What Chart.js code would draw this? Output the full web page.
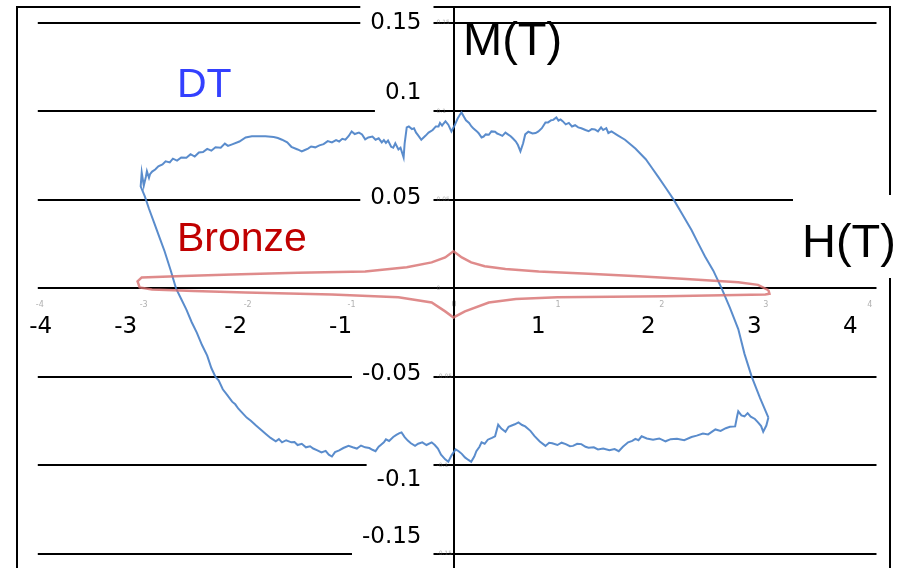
<!DOCTYPE html>
<html>
<head>
<meta charset="utf-8">
<script src="https://cdn.jsdelivr.net/npm/chart.js@4.4.1/dist/chart.umd.min.js"></script>
<style>
  html, body { margin: 0; padding: 0; background: #fff; overflow: hidden; }
  canvas { display: block; }
</style>
</head>
<body>
<canvas id="loop" width="901" height="568"></canvas>
<script>
// DT loop (H in T, M in T), in drawing order
const dtH = [
  3.03, 2.95, 2.87, 2.80, 2.74, 2.66, 2.58, 2.50, 2.42, 2.35,
  2.29, 2.20, 2.12, 2.04, 1.97, 1.91, 1.85, 1.75, 1.65, 1.58,
  1.52, 1.49, 1.47, 1.44, 1.42, 1.39, 1.36, 1.33, 1.30, 1.27,
  1.23, 1.20, 1.17, 1.14, 1.11, 1.08, 1.05, 1.03, 1.01, 0.99,
  0.96, 0.94, 0.91, 0.885, 0.85, 0.817, 0.79, 0.76, 0.72, 0.69,
  0.67, 0.644, 0.62, 0.60, 0.57, 0.55, 0.52, 0.5, 0.47, 0.44,
  0.42, 0.40, 0.365, 0.34, 0.31, 0.29, 0.27, 0.24, 0.22, 0.19,
  0.173, 0.15, 0.12, 0.10, 0.077, 0.06, 0.04, 0.01, -0.02, -0.05,
  -0.077, -0.10, -0.11, -0.13, -0.144, -0.17, -0.2, -0.24, -0.27, -0.31,
  -0.34, -0.36, -0.38, -0.4, -0.43, -0.45, -0.47, -0.48, -0.51, -0.53,
  -0.56, -0.58, -0.6, -0.63, -0.65, -0.67, -0.69, -0.72, -0.75, -0.78,
  -0.82, -0.85, -0.88, -0.91, -0.95, -0.98, -1.01, -1.04, -1.07, -1.10,
  -1.13, -1.17, -1.21, -1.25, -1.29, -1.33, -1.37, -1.40, -1.43, -1.46,
  -1.50, -1.56, -1.60, -1.65, -1.69, -1.73, -1.81, -1.88, -1.94, -2.0,
  -2.06, -2.13, -2.17, -2.20, -2.24, -2.29, -2.33, -2.37, -2.41, -2.45,
  -2.49, -2.53, -2.57, -2.62, -2.66, -2.70, -2.73, -2.77, -2.80, -2.84,
  -2.87, -2.9, -2.92, -2.93, -2.95, -2.96, -2.98, -3.0, -3.01, -2.97,
  -2.93, -2.88, -2.83, -2.78, -2.72, -2.67, -2.62, -2.57, -2.52, -2.47,
  -2.42, -2.37, -2.33, -2.29, -2.26, -2.22, -2.18, -2.13, -2.10, -2.07,
  -2.03, -1.99, -1.95, -1.90, -1.85, -1.80, -1.76, -1.71, -1.68, -1.65,
  -1.61, -1.56, -1.53, -1.50, -1.46, -1.42, -1.38, -1.35, -1.31, -1.27,
  -1.23, -1.20, -1.17, -1.14, -1.10, -1.06, -1.01, -0.97, -0.93, -0.89,
  -0.85, -0.81, -0.78, -0.75, -0.72, -0.70, -0.67, -0.65, -0.62, -0.58,
  -0.55, -0.52, -0.5, -0.47, -0.44, -0.41, -0.37, -0.34, -0.30, -0.26,
  -0.21, -0.18, -0.15, -0.12, -0.08, -0.05, -0.02, 0.02, 0.05, 0.08,
  0.11, 0.14, 0.17, 0.20, 0.22, 0.25, 0.27, 0.30, 0.33, 0.37,
  0.40, 0.43, 0.46, 0.5, 0.53, 0.56, 0.59, 0.625, 0.66, 0.69,
  0.74, 0.78, 0.83, 0.885, 0.92, 0.95, 1.00, 1.04, 1.08, 1.12,
  1.15, 1.19, 1.23, 1.27, 1.30, 1.35, 1.39, 1.44, 1.50, 1.55,
  1.59, 1.63, 1.68, 1.72, 1.75, 1.78, 1.81, 1.86, 1.92, 1.98,
  2.04, 2.09, 2.15, 2.22, 2.29, 2.34, 2.40, 2.45, 2.52, 2.57,
  2.62, 2.66, 2.71, 2.73, 2.74, 2.77, 2.80, 2.83, 2.86, 2.90,
  2.93, 2.96, 2.98, 3.01, 3.03];
const dtM = [
  -0.073, -0.062, -0.05, -0.037, -0.023, -0.011, 0.0, 0.010, 0.018, 0.026,
  0.033, 0.042, 0.05, 0.057, 0.063, 0.068, 0.073, 0.079, 0.084, 0.0865,
  0.0887, 0.0878, 0.0905, 0.0895, 0.091, 0.0887, 0.0898, 0.090, 0.0888, 0.0895,
  0.0905, 0.091, 0.0922, 0.0915, 0.0935, 0.0927, 0.0945, 0.0955, 0.0948, 0.0966,
  0.0952, 0.095, 0.0938, 0.0938, 0.0905, 0.0887, 0.0878, 0.0875, 0.0885, 0.087,
  0.082, 0.0774, 0.081, 0.083, 0.0848, 0.086, 0.0872, 0.088, 0.0862, 0.087,
  0.0875, 0.0885, 0.0887, 0.0868, 0.087, 0.0858, 0.0853, 0.0878, 0.089, 0.0905,
  0.0915, 0.0935, 0.095, 0.097, 0.0994, 0.098, 0.096, 0.092, 0.0887, 0.0925,
  0.0944, 0.0928, 0.092, 0.0935, 0.0915, 0.0915, 0.0895, 0.088, 0.0862, 0.084,
  0.0865, 0.088, 0.0905, 0.090, 0.0915, 0.091, 0.082, 0.074, 0.0795, 0.0785,
  0.082, 0.0795, 0.080, 0.0835, 0.0822, 0.0838, 0.0825, 0.0848, 0.084, 0.0858,
  0.0853, 0.0842, 0.087, 0.088, 0.0872, 0.0887, 0.086, 0.084, 0.0845, 0.083,
  0.0838, 0.0825, 0.0832, 0.0815, 0.0808, 0.0797, 0.0802, 0.079, 0.0782, 0.0774,
  0.0785, 0.080, 0.0825, 0.084, 0.085, 0.0855, 0.0859, 0.086, 0.0859, 0.0853,
  0.083, 0.0814, 0.0805, 0.0818, 0.0795, 0.0797, 0.0778, 0.0788, 0.077, 0.0768,
  0.0745, 0.0758, 0.0738, 0.074, 0.0722, 0.0733, 0.0712, 0.0718, 0.070, 0.069,
  0.0672, 0.066, 0.0645, 0.0625, 0.0662, 0.063, 0.058, 0.0655, 0.0576, 0.052,
  0.045, 0.037, 0.029, 0.021, 0.010, 0.0, -0.006, -0.012, -0.019, -0.025,
  -0.032, -0.038, -0.045, -0.05, -0.052, -0.057, -0.06, -0.064, -0.0655, -0.068,
  -0.0705, -0.073, -0.0748, -0.0775, -0.080, -0.0825, -0.0845, -0.0864, -0.0852, -0.087,
  -0.0858, -0.087, -0.0868, -0.0885, -0.0878, -0.0898, -0.0892, -0.0905, -0.0915, -0.0927,
  -0.0918, -0.094, -0.095, -0.0925, -0.0915, -0.0902, -0.089, -0.0898, -0.0905, -0.0888,
  -0.0898, -0.0902, -0.0912, -0.092, -0.0895, -0.0885, -0.087, -0.0853, -0.0862, -0.084,
  -0.0828, -0.0818, -0.0814, -0.084, -0.086, -0.0875, -0.089, -0.0878, -0.087, -0.0885,
  -0.087, -0.0885, -0.0905, -0.094, -0.0966, -0.098, -0.0945, -0.091, -0.092, -0.0935,
  -0.0955, -0.0968, -0.098, -0.095, -0.092, -0.0895, -0.087, -0.0878, -0.0855, -0.0845,
  -0.0836, -0.077, -0.0792, -0.081, -0.0782, -0.0775, -0.0768, -0.0757, -0.0772, -0.078,
  -0.0805, -0.0835, -0.0865, -0.089, -0.0872, -0.0875, -0.0885, -0.0872, -0.088, -0.0892,
  -0.089, -0.0878, -0.088, -0.0895, -0.090, -0.0898, -0.091, -0.0905, -0.0915, -0.0908,
  -0.092, -0.0895, -0.087, -0.0862, -0.085, -0.0858, -0.0836, -0.0848, -0.0855, -0.0848,
  -0.0864, -0.0852, -0.085, -0.0858, -0.084, -0.0832, -0.082, -0.0825, -0.0797, -0.0805,
  -0.079, -0.0782, -0.078, -0.072, -0.0695, -0.0718, -0.0723, -0.0705, -0.0725, -0.0738,
  -0.0757, -0.0778, -0.081, -0.0775, -0.073];

// Bronze loop
const bronzeH = [3.03, 2.93, 2.74, 2.2, 1.78, 1.3, 0.82, 0.5, 0.3, 0.17, 0.08, 0.0, -0.08, -0.21, -0.45, -0.85, -1.5, -2.13, -2.6, -3.0, -3.04, -3.02,
  -2.9, -2.5, -2.0, -1.17, -0.53, -0.21, -0.08, 0.0, 0.11, 0.34, 0.6, 1.0, 2.04, 3.0, 3.04, 3.03];
const bronzeM = [-0.001, 0.002, 0.0034, 0.0055, 0.0068, 0.0082, 0.0096, 0.011, 0.0125, 0.0147, 0.0175, 0.021, 0.0175, 0.0147, 0.012, 0.0096, 0.0088, 0.0079, 0.007, 0.0062, 0.004, 0.0005,
  -0.0006, -0.0015, -0.0023, -0.0034, -0.005, -0.008, -0.013, -0.0164, -0.013, -0.008, -0.006, -0.005, -0.0045, -0.0034, -0.003, -0.001];

// axis ticks
const hTicks = [-4, -3, -2, -1, 0, 1, 2, 3, 4];
const hTickLabels = ["-4", "-3", "-2", "-1", "0", "1", "2", "3", "4"];
const mTicks = [0.15, 0.1, 0.05, 0, -0.05, -0.1, -0.15];
const mTickLabels = ["0.15", "0.1", "0.05", "0", "-0.05", "-0.1", "-0.15"];

// the big pasted labels sit a little off their ticks (px)
const hLabelShift = [3, -16, -10, -9, 0, -19, -13, -11, -19];
const mLabelShift = [-1, -19, -3, 0, -4, 14, -18];

const toPoints = (xs, ys) => xs.map((h, i) => ({x: h, y: ys[i]}));

const refLayer = {
  id: "refLayer",
  beforeDatasetsDraw(chart) {
    const {ctx, chartArea: a, scales: {x, y}} = chart;
    const x0 = x.getPixelForValue(0);
    const y0 = y.getPixelForValue(0);
    ctx.save();
    ctx.strokeStyle = "#000";
    ctx.lineWidth = 2;

    // horizontal grid lines
    mTicks.forEach(v => {
      const py = Math.round(y.getPixelForValue(v));
      ctx.beginPath();
      ctx.moveTo(x.getPixelForValue(-4), py);
      ctx.lineTo(x.getPixelForValue(4.07), py);
      ctx.stroke();
    });

    // frame
    ctx.beginPath();
    ctx.moveTo(a.left, a.bottom + 2);
    ctx.lineTo(a.left, a.top);
    ctx.lineTo(a.right, a.top);
    ctx.lineTo(a.right, a.bottom + 2);
    ctx.stroke();

    // small faint tick labels
    ctx.fillStyle = "rgba(110,110,110,0.55)";
    ctx.font = '8px "DejaVu Sans"';
    ctx.textAlign = "left";
    ctx.textBaseline = "middle";
    hTicks.forEach((v, i) => {
      ctx.fillText(hTickLabels[i], x.getPixelForValue(v) - 2, y0 + 17);
    });
    ctx.font = '6px "DejaVu Sans"';
    mTicks.forEach((v, i) => {
      ctx.fillText(mTickLabels[i], x0 - 17, y.getPixelForValue(v));
    });

    // big M labels on white boxes
    ctx.font = '23px "DejaVu Sans"';
    ctx.textAlign = "right";
    mTicks.forEach((v, i) => {
      if (v === 0) return;
      const gy = y.getPixelForValue(v);
      const cy = gy + mLabelShift[i];
      const w = ctx.measureText(mTickLabels[i]).width;
      const right = x0 - 32;
      const top = Math.min(cy - 16, gy - 3);
      const bottom = Math.max(cy + 16, gy + 3);
      ctx.fillStyle = "#fff";
      ctx.fillRect(right - w - 10, top, w + 22, bottom - top);
      ctx.fillStyle = "#000";
      ctx.fillText(mTickLabels[i], right, cy + 1);
    });

    // big H labels
    ctx.textAlign = "center";
    hTicks.forEach((v, i) => {
      if (v === 0) return;
      ctx.fillText(hTickLabels[i], x.getPixelForValue(v) + hLabelShift[i], y0 + 39);
    });

    // axis titles
    ctx.fillStyle = "#fff";
    ctx.fillRect(793, 195, 108, 83);
    ctx.fillStyle = "#000";
    ctx.textAlign = "left";
    ctx.textBaseline = "alphabetic";
    ctx.font = '47px "Liberation Sans"';
    ctx.fillText("M(T)", 463, 55);
    ctx.fillText("H(T)", 802, 257);

    // series names
    ctx.font = '41px "Liberation Sans"';
    ctx.fillStyle = "#3340ff";
    ctx.fillText("DT", 177, 97);
    ctx.fillStyle = "#c00000";
    ctx.fillText("Bronze", 177, 251);

    // vertical M axis
    ctx.strokeStyle = "#000";
    ctx.beginPath();
    ctx.moveTo(Math.round(x0), a.top);
    ctx.lineTo(Math.round(x0), a.bottom + 2);
    ctx.stroke();
    ctx.restore();
  }
};

new Chart(document.getElementById("loop"), {
  type: "scatter",
  data: {
    datasets: [
      {
        label: "Bronze",
        data: toPoints(bronzeH, bronzeM),
        showLine: true,
        pointRadius: 0,
        borderColor: "rgba(215,110,110,0.8)",
        borderWidth: 2.5,
        tension: 0
      },
      {
        label: "DT",
        data: toPoints(dtH, dtM),
        showLine: true,
        pointRadius: 0,
        borderColor: "rgba(72,128,198,0.9)",
        borderWidth: 2,
        tension: 0
      }
    ]
  },
  options: {
    responsive: false,
    animation: false,
    devicePixelRatio: 1,
    layout: {padding: {left: 17, right: 11, top: 7, bottom: 0}},
    plugins: {legend: {display: false}, tooltip: {enabled: false}},
    scales: {
      x: {type: "linear", min: -4.2, max: 4.2, display: false},
      y: {type: "linear", min: -0.158, max: 0.159, display: false}
    }
  },
  plugins: [refLayer]
});
</script>
</body>
</html>
